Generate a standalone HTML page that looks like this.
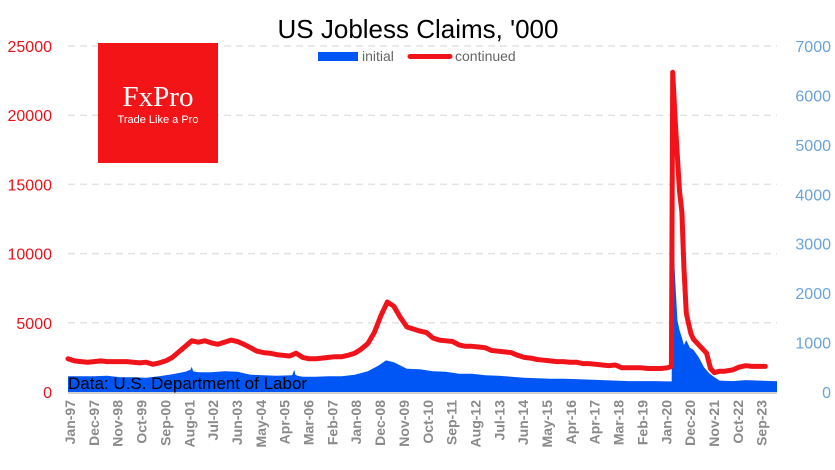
<!DOCTYPE html>
<html><head><meta charset="utf-8">
<style>
html,body{margin:0;padding:0;background:#fff;}
svg{display:block;font-family:"Liberation Sans",sans-serif;}
</style></head>
<body>
<svg id="chart" width="835" height="470" viewBox="0 0 835 470">
<g id="grid"></g>
<g id="initial"></g>
<g id="continued"></g>
<g id="laxis"></g>
<g id="raxis"></g>
<g id="xaxis"></g>
<text x="418" y="38" text-anchor="middle" font-size="26" fill="#000">US Jobless Claims, '000</text>
<g>
  <rect x="318" y="52" width="40" height="9" fill="#0055f5"/>
  <text x="362" y="61" font-size="14" fill="#666">initial</text>
  <line x1="410" y1="56.5" x2="450" y2="56.5" stroke="#f0141a" stroke-width="5" stroke-linecap="round"/>
  <text x="455" y="61" font-size="14" fill="#666">continued</text>
</g>
<g>
  <rect x="98" y="43" width="120" height="120" fill="#f21416"/>
  <text x="158" y="106" text-anchor="middle" font-family="Liberation Serif,serif" font-size="29" fill="#fff">FxPro</text>
  <text x="158" y="123" text-anchor="middle" font-size="11" fill="#fff">Trade Like a Pro</text>
</g>
<text x="68" y="389" font-size="17" fill="#000">Data: U.S. Department of Labor</text>
</svg>
<script>
const contDates=[1997,1997.25,1997.5,1997.75,1998,1998.25,1998.5,1998.75,1999,1999.25,1999.5,1999.75,2000,2000.25,2000.5,2000.75,2001,2001.25,2001.5,2001.75,2002,2002.25,2002.5,2002.75,2003,2003.25,2003.5,2003.75,2004,2004.25,2004.5,2004.75,2005,2005.25,2005.5,2005.75,2006,2006.25,2006.5,2006.75,2007,2007.25,2007.5,2007.75,2008,2008.25,2008.5,2008.75,2009,2009.25,2009.5,2009.75,2010,2010.25,2010.5,2010.75,2011,2011.25,2011.5,2011.75,2012,2012.25,2012.5,2012.75,2013,2013.25,2013.5,2013.75,2014,2014.25,2014.5,2014.75,2015,2015.25,2015.5,2015.75,2016,2016.25,2016.5,2016.75,2017,2017.25,2017.5,2017.75,2018,2018.25,2018.5,2018.75,2019,2019.25,2019.5,2019.75,2020,2020.15,2020.2,2020.3,2020.38,2020.46,2020.55,2020.63,2020.72,2020.8,2020.9,2021,2021.25,2021.5,2021.65,2021.8,2022,2022.2,2022.5,2022.75,2023,2023.25,2023.5,2023.75,2024.1];
const contVals=[2400,2250,2200,2150,2200,2250,2200,2200,2200,2200,2150,2100,2150,2000,2100,2250,2500,2900,3300,3700,3600,3700,3550,3450,3600,3750,3650,3450,3200,2950,2850,2800,2700,2650,2600,2800,2500,2400,2400,2450,2500,2550,2550,2650,2800,3100,3500,4300,5500,6500,6200,5400,4700,4550,4400,4300,3900,3750,3700,3650,3400,3300,3300,3250,3200,3000,2950,2900,2850,2650,2500,2450,2350,2300,2250,2200,2200,2150,2150,2050,2050,2000,1950,1900,1950,1750,1750,1750,1750,1700,1700,1700,1750,1850,23100,19500,17000,14500,13000,9000,5700,5000,4200,3800,3300,2800,1700,1400,1500,1500,1600,1800,1900,1850,1850,1850];
const initDates=[1997,1997.5,1998,1998.5,1999,1999.5,2000,2000.5,2001,2001.5,2001.7,2001.75,2001.8,2002,2002.5,2003,2003.5,2004,2004.5,2005,2005.6,2005.68,2005.72,2005.8,2006,2006.5,2007,2007.5,2008,2008.5,2008.9,2009.2,2009.5,2010,2010.5,2011,2011.5,2012,2012.5,2013,2013.5,2014,2014.5,2015,2015.5,2016,2016.5,2017,2017.5,2018,2018.5,2019,2019.5,2020,2020.16,2020.2,2020.23,2020.27,2020.32,2020.38,2020.46,2020.55,2020.63,2020.72,2020.85,2021,2021.2,2021.4,2021.6,2021.8,2022,2022.5,2023,2023.5,2024.1];
const initVals=[320,320,320,330,300,300,290,320,360,410,450,510,420,400,400,420,410,350,340,330,340,450,350,330,310,310,320,320,350,420,530,640,600,470,460,420,410,370,370,340,330,310,290,280,270,270,260,250,240,230,220,220,220,215,215,6100,4400,2500,2000,1450,1250,1100,950,1050,900,850,700,500,380,300,230,220,240,230,220];
const leftTicks=[0,5000,10000,15000,20000,25000];
const rightTicks=[0,1000,2000,3000,4000,5000,6000,7000];
const xLabels=["Jan-97","Dec-97","Nov-98","Oct-99","Sep-00","Aug-01","Jul-02","Jun-03","May-04","Apr-05","Mar-06","Feb-07","Jan-08","Dec-08","Nov-09","Oct-10","Sep-11","Aug-12","Jul-13","Jun-14","May-15","Apr-16","Apr-17","Mar-18","Feb-19","Jan-20","Dec-20","Nov-21","Oct-22","Sep-23"];
const NS="http://www.w3.org/2000/svg";
const X0=68,X1=777,Y0=392,YT=46;
const xs=d=>X0+(d-1997)*(X1-X0)/(2024.2-1997);
const yl=v=>Y0-v*(Y0-YT)/25000;
const yr=v=>Y0-v*(Y0-YT)/7000;
function mk(tag,attrs,parent){const e=document.createElementNS(NS,tag);for(const k in attrs)e.setAttribute(k,attrs[k]);parent.appendChild(e);return e;}
const grid=document.getElementById('grid'),la=document.getElementById('laxis'),ra=document.getElementById('raxis'),xa=document.getElementById('xaxis');
leftTicks.forEach(t=>{
  if(t>0){const g=mk('line',{x1:X0,x2:X1,y1:yl(t),y2:yl(t),stroke:'#e4e4e4','stroke-width':1.5,'stroke-dasharray':'7,5'},grid);
  
  }
  const tx=mk('text',{x:52,y:yl(t)+6,'text-anchor':'end','font-size':16,fill:'#e8141c'},la);tx.textContent=t;
  
  
});
rightTicks.forEach(t=>{
  const tx=mk('text',{x:831,y:yr(t)+6,'text-anchor':'end','font-size':16,fill:'#6aa3da'},ra);tx.textContent=t;
  
  
});
let p='M'+xs(initDates[0])+','+Y0;
for(let i=0;i<initDates.length;i++){p+=' L'+xs(initDates[i]).toFixed(1)+','+yr(initVals[i]).toFixed(1);}
p+=' L'+X1+','+yr(initVals[initVals.length-1]).toFixed(1)+' L'+X1+','+Y0+' Z';
const ar=mk('path',{d:p,fill:'#0055f5'},document.getElementById('initial'));


const base=mk('line',{x1:X0,x2:X1,y1:Y0+1,y2:Y0+1,stroke:'#d0d0d0','stroke-width':2},xa);


let q='';contDates.forEach((d,i)=>{q+=(i?' L':'M')+xs(d).toFixed(1)+','+yl(contVals[i]).toFixed(1);});
const ln=mk('path',{d:q,fill:'none',stroke:'#f0141a','stroke-width':5,'stroke-linejoin':'round','stroke-linecap':'round'},document.getElementById('continued'));


xLabels.forEach((l,i)=>{
  const x=70+i*23.85;
  const tx=mk('text',{x:0,y:0,transform:'translate('+(x+5)+',400) rotate(-90)','text-anchor':'end','font-size':14,'font-weight':'bold',fill:'#8a8a8a'},xa);tx.textContent=l;
  
  
});
</script>
</body></html>
